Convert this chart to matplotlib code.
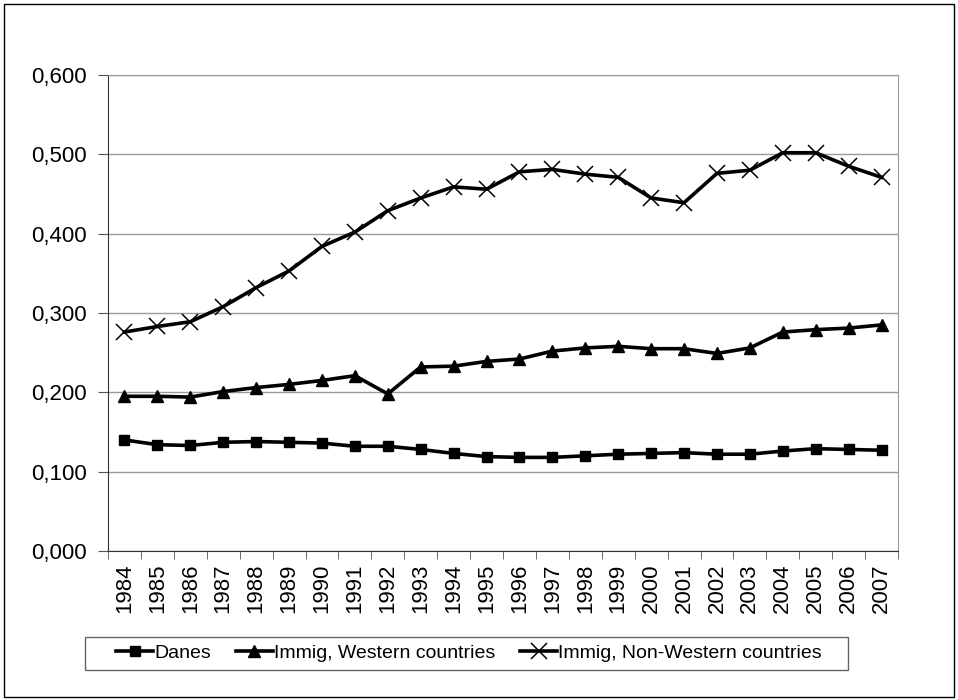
import numpy as np
import matplotlib.pyplot as plt
from matplotlib.patches import Rectangle

plt.rcParams['font.family'] = ['Liberation Sans', 'DejaVu Sans']

years = [str(y) for y in range(1984, 2008)]
danes = [0.140, 0.134, 0.133, 0.137, 0.138, 0.137, 0.136, 0.132, 0.132, 0.128,
         0.123, 0.119, 0.118, 0.118, 0.120, 0.122, 0.123, 0.124, 0.122, 0.122,
         0.126, 0.129, 0.128, 0.127]
western = [0.195, 0.195, 0.194, 0.201, 0.206, 0.210, 0.215, 0.221, 0.198, 0.232,
           0.233, 0.239, 0.242, 0.252, 0.256, 0.258, 0.255, 0.255, 0.249, 0.256,
           0.276, 0.279, 0.281, 0.285]
non_western = [0.276, 0.283, 0.289, 0.308, 0.332, 0.353, 0.384, 0.402, 0.429, 0.445,
               0.459, 0.456, 0.478, 0.481, 0.475, 0.471, 0.445, 0.439, 0.476, 0.480,
               0.502, 0.502, 0.485, 0.471]
yticks = [0.0, 0.1, 0.2, 0.3, 0.4, 0.5, 0.6]

fig = plt.figure(figsize=(9.58, 7), dpi=100)
# outer frame
fig.patches.append(Rectangle((0.004, 0.004), 0.992, 0.991, transform=fig.transFigure,
                             fill=False, edgecolor='black', linewidth=1))
# legend box
fig.patches.append(Rectangle((85/958, 30/700), 763/958, 33/700, transform=fig.transFigure,
                             fill=False, edgecolor='#666666', linewidth=1))
ax = fig.add_axes([108/958, 149/700, 790/958, 476/700])

x = np.arange(len(years))
ax.plot(x, danes, color='black', lw=2.6, marker='s', ms=7, label='Danes')
ax.plot(x, western, color='black', lw=2.6, marker='^', ms=8, label='Immig, Western countries')
ax.plot(x, non_western, color='black', lw=2.6, marker='x', ms=11, mew=1.1,
        label='Immig, Non-Western countries')

ax.set_xlim(-0.5, len(years) - 0.5)
ax.set_ylim(0, 0.6)
ax.set_yticks(yticks)
ax.yaxis.set_major_formatter(plt.FuncFormatter(lambda v, p: ('%.3f' % v).replace('.', ',')))
ax.set_xticks(x)
ax.set_xticklabels(years, rotation=90, fontsize=16)
ax.set_xticks(np.arange(len(years) + 1) - 0.5, minor=True)
ax.tick_params(axis='x', which='major', length=0, pad=9)
ax.tick_params(axis='x', which='minor', length=6, color='#555555')
ax.tick_params(axis='y', length=7, color='#555555', labelsize=16, pad=8)
ax.grid(axis='y', color='#999999', lw=1)
ax.set_axisbelow(True)
for s in ['top', 'right']:
    ax.spines[s].set_color('#999999')
for s in ['left', 'bottom']:
    ax.spines[s].set_color('#333333')

fig.legend(loc='center', bbox_to_anchor=(469/958, 47/700), ncol=3, fontsize=14,
           frameon=False, handlelength=1.9, handletextpad=0.05, columnspacing=1.3)

fig.savefig('out.png', dpi=100)
